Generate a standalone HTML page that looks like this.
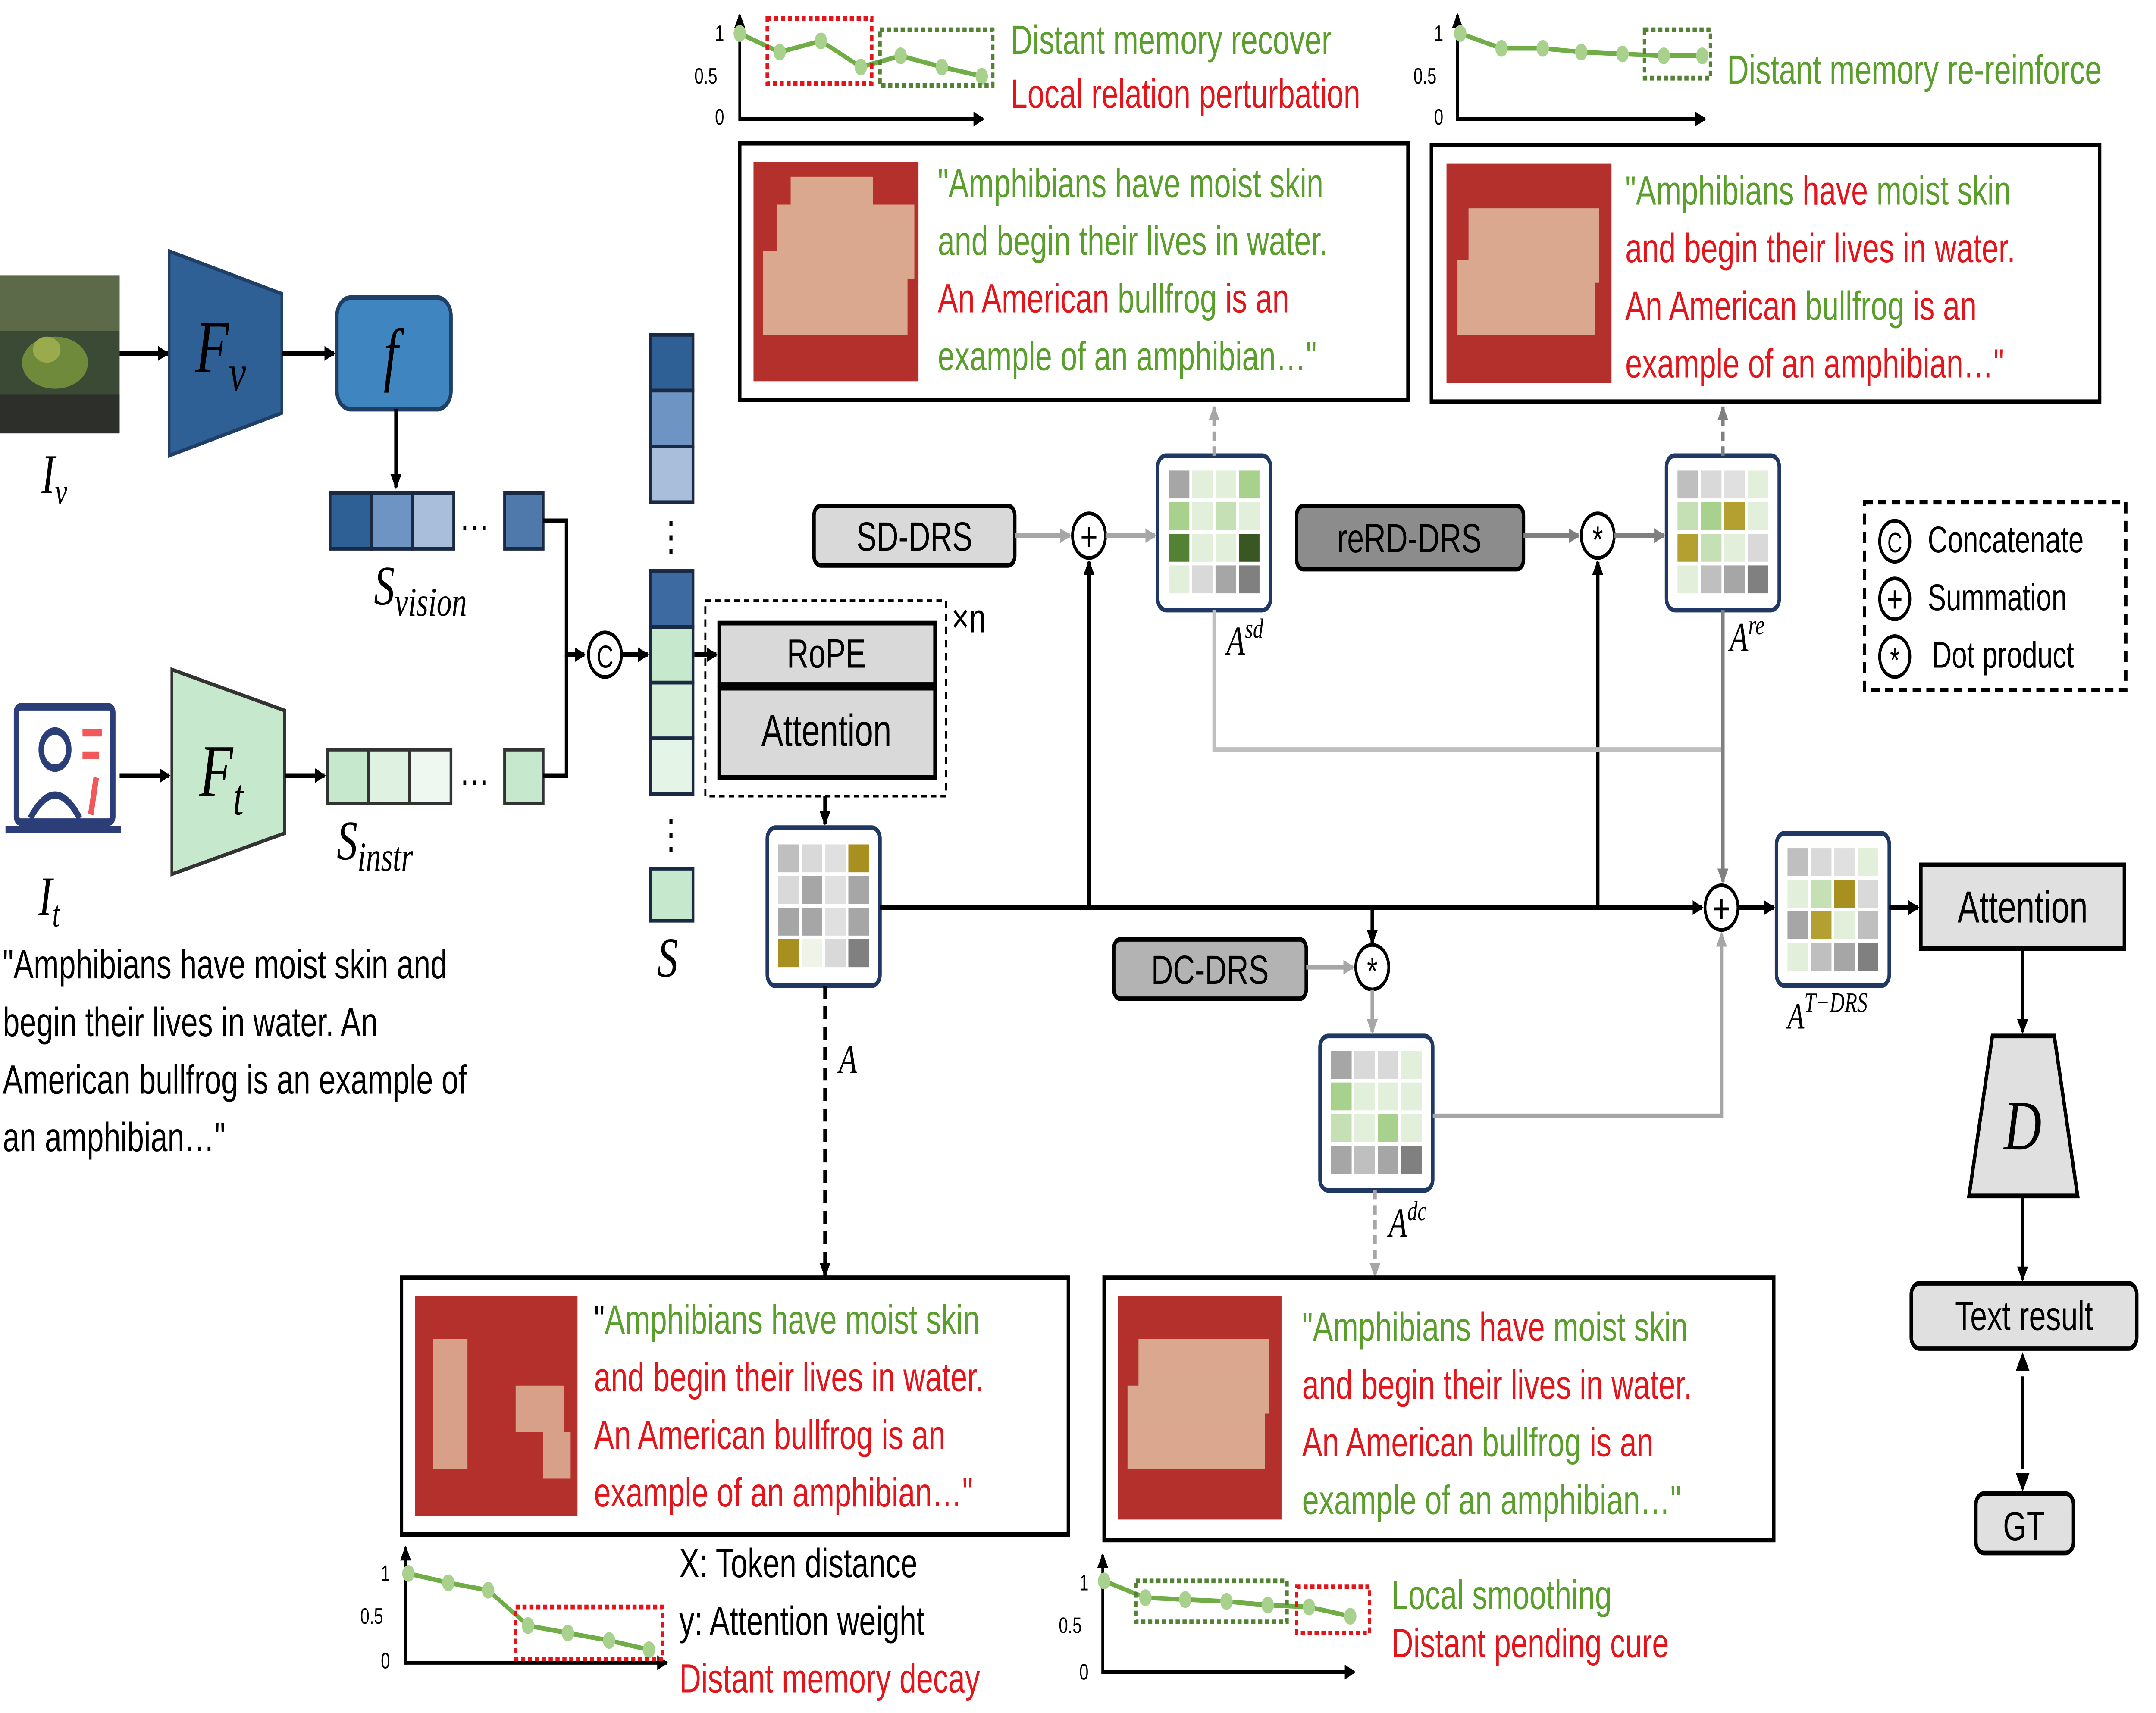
<!DOCTYPE html>
<html><head><meta charset="utf-8"><style>
html,body{margin:0;padding:0;background:#fff;overflow:hidden;width:100%;height:100%;}
svg{display:block;width:100vw;height:100vh;}
text{font-family:"Liberation Sans",sans-serif;}
.m{font-family:"Liberation Serif",serif;font-style:italic;}
.g{fill:#5a9e2c}.r{fill:#e3151b}
</style></head><body>
<svg viewBox="0 0 1568 921" preserveAspectRatio="none" xmlns="http://www.w3.org/2000/svg">
<defs>
<marker id="ak" markerWidth="8" markerHeight="8" refX="7" refY="4" orient="auto" markerUnits="userSpaceOnUse"><path d="M0,0 L8,4 L0,8 z" fill="#000"/></marker>
<marker id="ag" markerWidth="8" markerHeight="8" refX="7" refY="4" orient="auto" markerUnits="userSpaceOnUse"><path d="M0,0 L8,4 L0,8 z" fill="#a6a6a6"/></marker>
<marker id="ad" markerWidth="8" markerHeight="8" refX="7" refY="4" orient="auto" markerUnits="userSpaceOnUse"><path d="M0,0 L8,4 L0,8 z" fill="#808080"/></marker>
<g id="pt"><circle r="4.5" fill="#a9d18e"/></g>
</defs>

<rect x="0" y="148" width="87" height="85" fill="#3b4a35"/>
<rect x="0" y="148" width="87" height="30" fill="#5c6a4a"/>
<ellipse cx="40" cy="195" rx="24" ry="14" fill="#6f8a3a"/>
<ellipse cx="34" cy="188" rx="10" ry="7" fill="#9aab4e"/>
<rect x="0" y="212" width="87" height="21" fill="#2c2f2a"/>
<text x="30" y="265" class="m" font-size="30">I<tspan font-size="20" dy="6">v</tspan></text>
<line x1="87" y1="190" x2="122" y2="190" stroke="#000" stroke-width="2.5" marker-end="url(#ak)"/>
<polygon points="123,135 205,158 205,222 123,245" fill="#2e5f95" stroke="#1f3f66" stroke-width="2"/>
<text x="142" y="200" class="m" font-size="40" fill="#000">F<tspan font-size="28" dy="10">v</tspan></text>
<line x1="205" y1="190" x2="243" y2="190" stroke="#000" stroke-width="2.5" marker-end="url(#ak)"/>
<rect x="245" y="160" width="83" height="60" rx="10" fill="#3f86c0" stroke="#1f3f66" stroke-width="2.5"/>
<text x="279" y="203" class="m" font-size="38">f</text>
<line x1="288" y1="220" x2="288" y2="262" stroke="#000" stroke-width="2.5" marker-end="url(#ak)"/>
<rect x="240" y="265" width="30" height="30" fill="#2e5f95" stroke="#1a2a44" stroke-width="2"/>
<rect x="270" y="265" width="30" height="30" fill="#6d94c2" stroke="#1a2a44" stroke-width="2"/>
<rect x="300" y="265" width="30" height="30" fill="#a9bedb" stroke="#1a2a44" stroke-width="2"/>
<text x="334" y="285" font-size="22">…</text>
<rect x="367" y="265" width="28" height="30" fill="#4f78ab" stroke="#1a2a44" stroke-width="2"/>
<text x="272" y="325" class="m" font-size="30">S<tspan font-size="22" dy="6">vision</tspan></text>
<polyline points="395,280 412,280 412,352 425,352" fill="none" stroke="#000" stroke-width="2.5" marker-end="url(#ak)"/>

<g fill="none" stroke="#2c3e78" stroke-width="4">
<rect x="12" y="380" width="70" height="62" rx="3"/>
<circle cx="40" cy="403" r="10"/>
<path d="M22,440 Q40,415 58,440"/>
<line x1="4" y1="446" x2="88" y2="446"/>
</g>
<line x1="60" y1="394" x2="74" y2="394" stroke="#f2575a" stroke-width="4"/>
<line x1="60" y1="406" x2="72" y2="406" stroke="#f2575a" stroke-width="4"/>
<line x1="70" y1="418" x2="66" y2="438" stroke="#f2575a" stroke-width="4"/>
<text x="28" y="492" class="m" font-size="30">I<tspan font-size="20" dy="6">t</tspan></text>
<line x1="87" y1="417" x2="123" y2="417" stroke="#000" stroke-width="2.5" marker-end="url(#ak)"/>
<polygon points="125,360 207,382 207,448 125,470" fill="#c6e8cc" stroke="#333" stroke-width="2"/>
<text x="145" y="428" class="m" font-size="40">F<tspan font-size="28" dy="10">t</tspan></text>
<line x1="207" y1="417" x2="236" y2="417" stroke="#000" stroke-width="2.5" marker-end="url(#ak)"/>
<rect x="238" y="403" width="30" height="29" fill="#c6e8cc" stroke="#333" stroke-width="2"/>
<rect x="268" y="403" width="30" height="29" fill="#dff2e2" stroke="#333" stroke-width="2"/>
<rect x="298" y="403" width="30" height="29" fill="#eef8f0" stroke="#333" stroke-width="2"/>
<text x="334" y="422" font-size="22">…</text>
<rect x="367" y="403" width="28" height="29" fill="#c6e8cc" stroke="#333" stroke-width="2"/>
<text x="245" y="462" class="m" font-size="30">S<tspan font-size="22" dy="6">instr</tspan></text>
<polyline points="395,417 412,417 412,352" fill="none" stroke="#000" stroke-width="2.5"/>
<g font-size="22" fill="#000">
<text x="2" y="526">"Amphibians have moist skin and</text>
<text x="2" y="557">begin their lives in water. An</text>
<text x="2" y="588">American bullfrog is an example of</text>
<text x="2" y="619">an amphibian…"</text>
</g>

<circle cx="440" cy="352" r="12" fill="#fff" stroke="#000" stroke-width="2"/>
<text x="440" y="359" font-size="17" text-anchor="middle">C</text>
<line x1="452" y1="352" x2="471" y2="352" stroke="#000" stroke-width="2.5" marker-end="url(#ak)"/>
<g stroke="#1a2a44" stroke-width="2">
<rect x="473" y="180" width="31" height="30" fill="#2e5f95"/>
<rect x="473" y="210" width="31" height="30" fill="#6d94c2"/>
<rect x="473" y="240" width="31" height="30" fill="#a9bedb"/>
<rect x="473" y="307" width="31" height="30" fill="#3d6aa0"/>
<rect x="473" y="337" width="31" height="30" fill="#c6e8cc"/>
<rect x="473" y="367" width="31" height="30" fill="#d4eed8"/>
<rect x="473" y="397" width="31" height="30" fill="#e4f4e6"/>
<rect x="473" y="467" width="31" height="28" fill="#c6e8cc"/>
</g>
<text x="488" y="296" font-size="22" text-anchor="middle">⋮</text>
<text x="488" y="456" font-size="22" text-anchor="middle">⋮</text>
<text x="478" y="525" class="m" font-size="30">S</text>
<line x1="505" y1="352" x2="521" y2="352" stroke="#000" stroke-width="2.5" marker-end="url(#ak)"/>

<rect x="513" y="323" width="175" height="105" fill="none" stroke="#000" stroke-width="1.5" stroke-dasharray="4,3"/>
<rect x="523" y="335" width="157" height="33" fill="#d9d9d9" stroke="#000" stroke-width="2.5"/>
<text x="601" y="359" font-size="22" text-anchor="middle">RoPE</text>
<rect x="523" y="370" width="157" height="48" fill="#d9d9d9" stroke="#000" stroke-width="2.5"/>
<text x="601" y="401" font-size="24" text-anchor="middle">Attention</text>
<text x="692" y="340" font-size="22">×n</text>
<line x1="600" y1="428" x2="600" y2="443" stroke="#000" stroke-width="2.5" marker-end="url(#ak)"/>

<g transform="translate(558,445)">
<rect width="82" height="85" rx="6" fill="#fff" stroke="#1f3864" stroke-width="2.5"/>
<rect x="8" y="9" width="15" height="15" fill="#bfbfbf"/><rect x="25" y="9" width="15" height="15" fill="#d9d9d9"/><rect x="42" y="9" width="15" height="15" fill="#e0e0e0"/><rect x="59" y="9" width="15" height="15" fill="#a89020"/>
<rect x="8" y="26" width="15" height="15" fill="#d9d9d9"/><rect x="25" y="26" width="15" height="15" fill="#a6a6a6"/><rect x="42" y="26" width="15" height="15" fill="#e0e0e0"/><rect x="59" y="26" width="15" height="15" fill="#a6a6a6"/>
<rect x="8" y="43" width="15" height="15" fill="#a6a6a6"/><rect x="25" y="43" width="15" height="15" fill="#a6a6a6"/><rect x="42" y="43" width="15" height="15" fill="#e0e0e0"/><rect x="59" y="43" width="15" height="15" fill="#a6a6a6"/>
<rect x="8" y="60" width="15" height="15" fill="#a89020"/><rect x="25" y="60" width="15" height="15" fill="#eef5e8"/><rect x="42" y="60" width="15" height="15" fill="#d9d9d9"/><rect x="59" y="60" width="15" height="15" fill="#808080"/>
</g>
<text x="610" y="577" class="m" font-size="22">A</text>

<g transform="translate(842,245)">
<rect width="82" height="83" rx="6" fill="#fff" stroke="#1f3864" stroke-width="2.5"/>
<rect x="8" y="8" width="15" height="15" fill="#a6a6a6"/><rect x="25" y="8" width="15" height="15" fill="#e2efda"/><rect x="42" y="8" width="15" height="15" fill="#e2efda"/><rect x="59" y="8" width="15" height="15" fill="#a9d18e"/>
<rect x="8" y="25" width="15" height="15" fill="#a9d18e"/><rect x="25" y="25" width="15" height="15" fill="#e2efda"/><rect x="42" y="25" width="15" height="15" fill="#c5e0b4"/><rect x="59" y="25" width="15" height="15" fill="#e2efda"/>
<rect x="8" y="42" width="15" height="15" fill="#548235"/><rect x="25" y="42" width="15" height="15" fill="#e2efda"/><rect x="42" y="42" width="15" height="15" fill="#e2efda"/><rect x="59" y="42" width="15" height="15" fill="#385723"/>
<rect x="8" y="59" width="15" height="15" fill="#e2efda"/><rect x="25" y="59" width="15" height="15" fill="#d9d9d9"/><rect x="42" y="59" width="15" height="15" fill="#a6a6a6"/><rect x="59" y="59" width="15" height="15" fill="#808080"/>
</g>
<text x="892" y="352" class="m" font-size="22">A<tspan font-size="15" dy="-9">sd</tspan></text>

<g transform="translate(1212,245)">
<rect width="82" height="83" rx="6" fill="#fff" stroke="#1f3864" stroke-width="2.5"/>
<rect x="8" y="8" width="15" height="15" fill="#bfbfbf"/><rect x="25" y="8" width="15" height="15" fill="#d9d9d9"/><rect x="42" y="8" width="15" height="15" fill="#e0e0e0"/><rect x="59" y="8" width="15" height="15" fill="#e2efda"/>
<rect x="8" y="25" width="15" height="15" fill="#c5e0b4"/><rect x="25" y="25" width="15" height="15" fill="#a9d18e"/><rect x="42" y="25" width="15" height="15" fill="#b4a030"/><rect x="59" y="25" width="15" height="15" fill="#e2efda"/>
<rect x="8" y="42" width="15" height="15" fill="#b4a030"/><rect x="25" y="42" width="15" height="15" fill="#c5e0b4"/><rect x="42" y="42" width="15" height="15" fill="#e2efda"/><rect x="59" y="42" width="15" height="15" fill="#d9d9d9"/>
<rect x="8" y="59" width="15" height="15" fill="#e2efda"/><rect x="25" y="59" width="15" height="15" fill="#bfbfbf"/><rect x="42" y="59" width="15" height="15" fill="#a6a6a6"/><rect x="59" y="59" width="15" height="15" fill="#808080"/>
</g>
<text x="1258" y="350" class="m" font-size="22">A<tspan font-size="15" dy="-9">re</tspan></text>

<g transform="translate(960,557)">
<rect width="82" height="83" rx="6" fill="#fff" stroke="#1f3864" stroke-width="2.5"/>
<rect x="8" y="8" width="15" height="15" fill="#a6a6a6"/><rect x="25" y="8" width="15" height="15" fill="#d9d9d9"/><rect x="42" y="8" width="15" height="15" fill="#d9d9d9"/><rect x="59" y="8" width="15" height="15" fill="#e2efda"/>
<rect x="8" y="25" width="15" height="15" fill="#a9d18e"/><rect x="25" y="25" width="15" height="15" fill="#e2efda"/><rect x="42" y="25" width="15" height="15" fill="#e2efda"/><rect x="59" y="25" width="15" height="15" fill="#e2efda"/>
<rect x="8" y="42" width="15" height="15" fill="#c5e0b4"/><rect x="25" y="42" width="15" height="15" fill="#e2efda"/><rect x="42" y="42" width="15" height="15" fill="#a9d18e"/><rect x="59" y="42" width="15" height="15" fill="#e2efda"/>
<rect x="8" y="59" width="15" height="15" fill="#a6a6a6"/><rect x="25" y="59" width="15" height="15" fill="#bfbfbf"/><rect x="42" y="59" width="15" height="15" fill="#a6a6a6"/><rect x="59" y="59" width="15" height="15" fill="#808080"/>
</g>
<text x="1010" y="665" class="m" font-size="22">A<tspan font-size="15" dy="-9">dc</tspan></text>

<g transform="translate(1292,448)">
<rect width="82" height="82" rx="6" fill="#fff" stroke="#1f3864" stroke-width="2.5"/>
<rect x="8" y="8" width="15" height="15" fill="#bfbfbf"/><rect x="25" y="8" width="15" height="15" fill="#d9d9d9"/><rect x="42" y="8" width="15" height="15" fill="#e0e0e0"/><rect x="59" y="8" width="15" height="15" fill="#e2efda"/>
<rect x="8" y="25" width="15" height="15" fill="#e2efda"/><rect x="25" y="25" width="15" height="15" fill="#c5e0b4"/><rect x="42" y="25" width="15" height="15" fill="#a89020"/><rect x="59" y="25" width="15" height="15" fill="#d9d9d9"/>
<rect x="8" y="42" width="15" height="15" fill="#a6a6a6"/><rect x="25" y="42" width="15" height="15" fill="#b4a030"/><rect x="42" y="42" width="15" height="15" fill="#e2efda"/><rect x="59" y="42" width="15" height="15" fill="#bfbfbf"/>
<rect x="8" y="59" width="15" height="15" fill="#e2efda"/><rect x="25" y="59" width="15" height="15" fill="#bfbfbf"/><rect x="42" y="59" width="15" height="15" fill="#a6a6a6"/><rect x="59" y="59" width="15" height="15" fill="#808080"/>
</g>
<text x="1300" y="553" class="m" font-size="20">A<tspan font-size="15" dy="-9">T−DRS</tspan></text>

<line x1="640" y1="488" x2="1238" y2="488" stroke="#000" stroke-width="2.5" marker-end="url(#ak)"/>
<line x1="792" y1="488" x2="792" y2="302" stroke="#000" stroke-width="2.5" marker-end="url(#ak)"/>
<line x1="1162" y1="488" x2="1162" y2="302" stroke="#000" stroke-width="2.5" marker-end="url(#ak)"/>
<line x1="998" y1="488" x2="998" y2="507" stroke="#000" stroke-width="2.5" marker-end="url(#ak)"/>
<line x1="600" y1="530" x2="600" y2="686" stroke="#000" stroke-width="2.5" stroke-dasharray="7,4" marker-end="url(#ak)"/>

<rect x="592" y="272" width="146" height="32" rx="5" fill="#d9d9d9" stroke="#000" stroke-width="2.5"/>
<text x="665" y="296" font-size="22" text-anchor="middle">SD-DRS</text>
<line x1="738" y1="288" x2="778" y2="288" stroke="#a6a6a6" stroke-width="2.5" marker-end="url(#ag)"/>
<circle cx="792" cy="288" r="12" fill="#fff" stroke="#000" stroke-width="2"/>
<text x="792" y="296" font-size="22" text-anchor="middle">+</text>
<line x1="804" y1="288" x2="840" y2="288" stroke="#a6a6a6" stroke-width="2.5" marker-end="url(#ag)"/>
<line x1="883" y1="245" x2="883" y2="219" stroke="#a6a6a6" stroke-width="2.5" stroke-dasharray="5,3" marker-end="url(#ag)"/>
<polyline points="883,328 883,403 1252,403" fill="none" stroke="#bfbfbf" stroke-width="2.5"/>

<rect x="943" y="272" width="165" height="34" rx="5" fill="#8c8c8c" stroke="#000" stroke-width="2.5"/>
<text x="1025" y="297" font-size="22" text-anchor="middle">reRD-DRS</text>
<line x1="1108" y1="288" x2="1148" y2="288" stroke="#808080" stroke-width="2.5" marker-end="url(#ad)"/>
<circle cx="1162" cy="288" r="12" fill="#fff" stroke="#000" stroke-width="2"/>
<text x="1162" y="297" font-size="20" text-anchor="middle">*</text>
<line x1="1174" y1="288" x2="1210" y2="288" stroke="#808080" stroke-width="2.5" marker-end="url(#ad)"/>
<line x1="1253" y1="245" x2="1253" y2="219" stroke="#808080" stroke-width="2.5" stroke-dasharray="5,3" marker-end="url(#ad)"/>
<line x1="1253" y1="328" x2="1253" y2="474" stroke="#808080" stroke-width="2.5" marker-end="url(#ad)"/>

<rect x="810" y="505" width="140" height="32" rx="5" fill="#b3b3b3" stroke="#000" stroke-width="2.5"/>
<text x="880" y="529" font-size="22" text-anchor="middle">DC-DRS</text>
<line x1="950" y1="520" x2="984" y2="520" stroke="#a6a6a6" stroke-width="2.5" marker-end="url(#ag)"/>
<circle cx="998" cy="520" r="12" fill="#fff" stroke="#000" stroke-width="2"/>
<text x="998" y="529" font-size="20" text-anchor="middle">*</text>
<line x1="998" y1="532" x2="998" y2="555" stroke="#a6a6a6" stroke-width="2.5" marker-end="url(#ag)"/>
<line x1="1000" y1="640" x2="1000" y2="686" stroke="#a6a6a6" stroke-width="2.5" stroke-dasharray="5,3" marker-end="url(#ag)"/>
<polyline points="1042,600 1252,600 1252,502" fill="none" stroke="#a6a6a6" stroke-width="2.5" marker-end="url(#ag)"/>

<circle cx="1252" cy="488" r="12" fill="#fff" stroke="#000" stroke-width="2"/>
<text x="1252" y="496" font-size="22" text-anchor="middle">+</text>
<line x1="1264" y1="488" x2="1290" y2="488" stroke="#000" stroke-width="2.5" marker-end="url(#ak)"/>
<line x1="1374" y1="488" x2="1395" y2="488" stroke="#000" stroke-width="2.5" marker-end="url(#ak)"/>
<rect x="1397" y="465" width="148" height="45" fill="#e0e0e0" stroke="#000" stroke-width="2.5"/>
<text x="1471" y="496" font-size="24" text-anchor="middle">Attention</text>
<line x1="1471" y1="510" x2="1471" y2="555" stroke="#000" stroke-width="2.5" marker-end="url(#ak)"/>
<polygon points="1449,557 1494,557 1511,643 1432,643" fill="#e0e0e0" stroke="#000" stroke-width="2.5"/>
<text x="1471" y="618" class="m" font-size="38" text-anchor="middle">D</text>
<line x1="1471" y1="643" x2="1471" y2="688" stroke="#000" stroke-width="2.5" marker-end="url(#ak)"/>
<rect x="1390" y="690" width="164" height="35" rx="6" fill="#e0e0e0" stroke="#000" stroke-width="2.5"/>
<text x="1472" y="715" font-size="22" text-anchor="middle">Text result</text>
<line x1="1471" y1="740" x2="1471" y2="790" stroke="#000" stroke-width="2.5"/>
<path d="M1471,727 l-5,10 h10z M1471,802 l-5,-10 h10z" fill="#000"/>
<rect x="1437" y="803" width="71" height="32" rx="6" fill="#e0e0e0" stroke="#000" stroke-width="2.5"/>
<text x="1472" y="828" font-size="22" text-anchor="middle">GT</text>

<rect x="1356" y="270" width="190" height="101" fill="#fff" stroke="#000" stroke-width="2.5" stroke-dasharray="6,4"/>
<g font-size="20">
<circle cx="1378" cy="291" r="11" fill="none" stroke="#000" stroke-width="2"/><text x="1378" y="297" font-size="15" text-anchor="middle">C</text><text x="1402" y="297">Concatenate</text>
<circle cx="1378" cy="322" r="11" fill="none" stroke="#000" stroke-width="2"/><text x="1378" y="329" text-anchor="middle">+</text><text x="1402" y="328">Summation</text>
<circle cx="1378" cy="353" r="11" fill="none" stroke="#000" stroke-width="2"/><text x="1378" y="361" text-anchor="middle" font-size="18">*</text><text x="1405" y="359">Dot product</text>
</g>

<rect x="538" y="77" width="486" height="138" fill="#fff" stroke="#000" stroke-width="2.5"/>
<rect x="548" y="87" width="120" height="118" fill="#b3302c"/>
<g fill="#e8d0b0" opacity="0.75"><rect x="565" y="110" width="100" height="40"/><rect x="555" y="135" width="105" height="45"/><rect x="575" y="95" width="60" height="20"/></g>
<g font-size="22"><text x="682" y="106" class="g">"Amphibians have moist skin</text><text x="682" y="137" class="g">and begin their lives in water.</text><text x="682" y="168"><tspan class="r">An American </tspan><tspan class="g">bullfrog </tspan><tspan class="r">is an</tspan></text><text x="682" y="199" class="g">example of an amphibian…"</text></g>

<rect x="1041" y="78" width="486" height="138" fill="#fff" stroke="#000" stroke-width="2.5"/>
<rect x="1052" y="88" width="120" height="118" fill="#b3302c"/>
<g fill="#e8d0b0" opacity="0.75"><rect x="1068" y="112" width="95" height="40"/><rect x="1060" y="140" width="100" height="40"/></g>
<g font-size="22"><text x="1182" y="110"><tspan class="g">"Amphibians </tspan><tspan class="r">have </tspan><tspan class="g">moist skin</tspan></text><text x="1182" y="141" class="r">and begin their lives in water.</text><text x="1182" y="172"><tspan class="r">An American </tspan><tspan class="g">bullfrog </tspan><tspan class="r">is an</tspan></text><text x="1182" y="203" class="r">example of an amphibian…"</text></g>

<rect x="292" y="687" width="485" height="138" fill="#fff" stroke="#000" stroke-width="2.5"/>
<rect x="302" y="697" width="118" height="118" fill="#b3302c"/>
<g fill="#e8d0b0" opacity="0.7"><rect x="315" y="720" width="25" height="70"/><rect x="375" y="745" width="35" height="25"/><rect x="395" y="770" width="20" height="25"/></g>
<g font-size="22"><text x="432" y="717"><tspan fill="#000">"</tspan><tspan class="g">Amphibians have moist skin</tspan></text><text x="432" y="748" class="r">and begin their lives in water.</text><text x="432" y="779" class="r">An American bullfrog is an</text><text x="432" y="810" class="r">example of an amphibian…"</text></g>

<rect x="803" y="687" width="487" height="141" fill="#fff" stroke="#000" stroke-width="2.5"/>
<rect x="813" y="697" width="119" height="120" fill="#b3302c"/>
<g fill="#e8d0b0" opacity="0.75"><rect x="828" y="720" width="95" height="40"/><rect x="820" y="745" width="100" height="45"/></g>
<g font-size="22"><text x="947" y="721"><tspan class="g">"Amphibians </tspan><tspan class="r">have </tspan><tspan class="g">moist skin</tspan></text><text x="947" y="752" class="r">and begin their lives in water.</text><text x="947" y="783"><tspan class="r">An American </tspan><tspan class="g">bullfrog </tspan><tspan class="r">is an</tspan></text><text x="947" y="814" class="g">example of an amphibian…"</text></g>

<g font-size="12">
<line x1="538" y1="65" x2="538" y2="8" stroke="#000" stroke-width="2" marker-end="url(#ak)"/>
<line x1="538" y1="64" x2="715" y2="64" stroke="#000" stroke-width="2" marker-end="url(#ak)"/>
<text x="520" y="22">1</text><text x="505" y="45">0.5</text><text x="520" y="67">0</text>
<polyline points="538,18 567,28 597,22 626,36 655,30 685,36 714,41" fill="none" stroke="#70ad47" stroke-width="2.5"/>
<use href="#pt" x="538" y="18"/><use href="#pt" x="567" y="28"/><use href="#pt" x="597" y="22"/><use href="#pt" x="626" y="36"/><use href="#pt" x="655" y="30"/><use href="#pt" x="685" y="36"/><use href="#pt" x="714" y="41"/>
<rect x="558" y="10" width="76" height="35" fill="none" stroke="#e3151b" stroke-width="2.5" stroke-dasharray="3,2"/>
<rect x="640" y="16" width="82" height="30" fill="none" stroke="#548235" stroke-width="2.5" stroke-dasharray="3,2"/>
<text x="735" y="29" font-size="22" class="g">Distant memory recover</text>
<text x="735" y="58" font-size="22" class="r">Local relation perturbation</text>
<line x1="1060" y1="65" x2="1060" y2="8" stroke="#000" stroke-width="2" marker-end="url(#ak)"/>
<line x1="1060" y1="64" x2="1240" y2="64" stroke="#000" stroke-width="2" marker-end="url(#ak)"/>
<text x="1043" y="22">1</text><text x="1028" y="45">0.5</text><text x="1043" y="67">0</text>
<polyline points="1062,18 1092,26 1122,26 1150,28 1180,29 1210,30 1238,30" fill="none" stroke="#70ad47" stroke-width="2.5"/>
<use href="#pt" x="1062" y="18"/><use href="#pt" x="1092" y="26"/><use href="#pt" x="1122" y="26"/><use href="#pt" x="1150" y="28"/><use href="#pt" x="1180" y="29"/><use href="#pt" x="1210" y="30"/><use href="#pt" x="1238" y="30"/>
<rect x="1196" y="16" width="48" height="26" fill="none" stroke="#548235" stroke-width="2.5" stroke-dasharray="3,2"/>
<text x="1256" y="45" font-size="22" class="g">Distant memory re-reinforce</text>
<line x1="295" y1="895" x2="295" y2="832" stroke="#000" stroke-width="2" marker-end="url(#ak)"/>
<line x1="295" y1="894" x2="485" y2="894" stroke="#000" stroke-width="2" marker-end="url(#ak)"/>
<text x="277" y="850">1</text><text x="262" y="873">0.5</text><text x="277" y="897">0</text>
<polyline points="297,846 326,851 355,855 384,874 413,878 443,882 472,887" fill="none" stroke="#70ad47" stroke-width="2.5"/>
<use href="#pt" x="297" y="846"/><use href="#pt" x="326" y="851"/><use href="#pt" x="355" y="855"/><use href="#pt" x="384" y="874"/><use href="#pt" x="413" y="878"/><use href="#pt" x="443" y="882"/><use href="#pt" x="472" y="887"/>
<rect x="375" y="864" width="107" height="28" fill="none" stroke="#e3151b" stroke-width="2.5" stroke-dasharray="3,2"/>
<text x="494" y="848" font-size="22">X: Token distance</text>
<text x="494" y="879" font-size="22">y: Attention weight</text>
<text x="494" y="910" font-size="22" class="r">Distant memory decay</text>
<line x1="802" y1="900" x2="802" y2="836" stroke="#000" stroke-width="2" marker-end="url(#ak)"/>
<line x1="802" y1="899" x2="985" y2="899" stroke="#000" stroke-width="2" marker-end="url(#ak)"/>
<text x="785" y="855">1</text><text x="770" y="878">0.5</text><text x="785" y="903">0</text>
<polyline points="803,850 833,859 862,860 892,861 922,863 952,864 982,869" fill="none" stroke="#70ad47" stroke-width="2.5"/>
<use href="#pt" x="803" y="850"/><use href="#pt" x="833" y="859"/><use href="#pt" x="862" y="860"/><use href="#pt" x="892" y="861"/><use href="#pt" x="922" y="863"/><use href="#pt" x="952" y="864"/><use href="#pt" x="982" y="869"/>
<rect x="826" y="850" width="110" height="22" fill="none" stroke="#548235" stroke-width="2.5" stroke-dasharray="3,2"/>
<rect x="943" y="853" width="53" height="25" fill="none" stroke="#e3151b" stroke-width="2.5" stroke-dasharray="3,2"/>
<text x="1012" y="865" font-size="22" class="g">Local smoothing</text>
<text x="1012" y="891" font-size="22" class="r">Distant pending cure</text>
</g>
</svg>
</body></html>
